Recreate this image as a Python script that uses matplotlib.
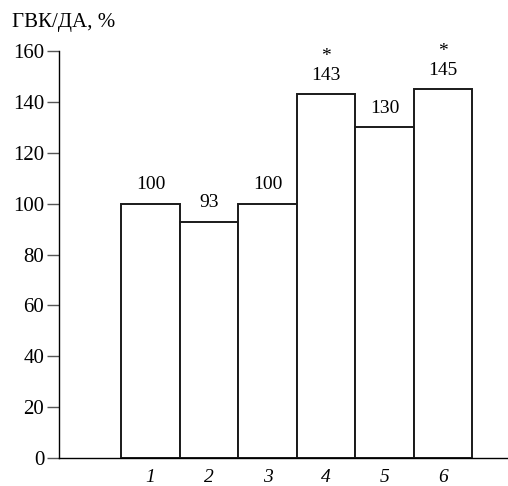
import matplotlib
matplotlib.use("Agg")
import matplotlib.pyplot as plt

categories = ["1", "2", "3", "4", "5", "6"]
values = [100, 93, 100, 143, 130, 145]
labels = ["100", "93", "100", "143", "130", "145"]
stars = [False, False, False, True, False, True]
yticks = [0, 20, 40, 60, 80, 100, 120, 140, 160]

plt.rcParams['font.family'] = ['Liberation Serif', 'DejaVu Serif']

fig = plt.figure(figsize=(5.08, 4.86), dpi=100)
ax = fig.add_axes([0.116, 0.0576, 0.884, 0.837])

x = list(range(1, len(values) + 1))
ax.bar(x, values, width=1.0, color='white', edgecolor='#1a1a1a', linewidth=1.4, zorder=2)

for xi, v, lab, s in zip(x, values, labels, stars):
    ax.text(xi, v + 7.5, lab, ha='center', va='center', fontsize=14)
    if s:
        ax.text(xi, v + 15, '*', ha='center', va='center', fontsize=14)

ax.set_xlim(-0.564, 7.11)
ax.set_ylim(0, 160)
ax.set_yticks(yticks)
ax.set_yticklabels([str(t) for t in yticks], fontsize=15)
ax.set_xticks(x)
ax.set_xticklabels(categories, fontsize=14, style='italic')
ax.tick_params(axis='x', length=0, pad=8)
ax.tick_params(axis='y', length=9, width=1, direction='out', pad=1.5, color='#555555')

for sp in ['top', 'right']:
    ax.spines[sp].set_visible(False)
ax.spines['left'].set_linewidth(1.0)
ax.spines['bottom'].set_linewidth(1.0)

fig.text(12 / 508, 1 - 23 / 486, 'ГВК/ДА, %', ha='left', va='center', fontsize=15)

fig.savefig('out.png', dpi=100)
